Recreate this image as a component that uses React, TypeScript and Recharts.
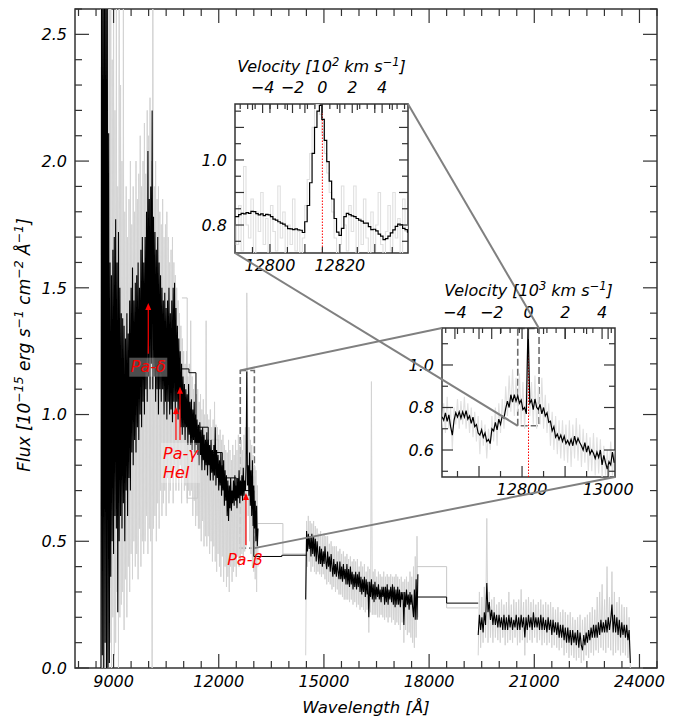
import React from 'react';
import { ComposedChart, Line, XAxis, YAxis, ReferenceArea, ReferenceLine } from 'recharts';

const FONT = '"DejaVu Sans", sans-serif';
const FRAME = '#333333';
const GREY = '#d3d3d3';
const LIGHT = '#e0e0e0';
const CONNECT = '#808080';
const RED = '#ff0000';

// ---------- domains ----------
const MAIN_X = [7900, 24500];
const MAIN_Y = [0, 2.6];
const Z1_X = [12790, 12839.5];
const Z1_Y = [0.714, 1.172];
const Z2_X = [12614, 13016];
const Z2_Y = [0.473, 1.174];
const LAMBDA0 = 12815;
const C_KMS = 299792.458;

// ---------- ticks / labels ----------
const MAIN_XTICKS = Array.from({ length: 34 }, (_, i) => 8000 + 500 * i);
const MAIN_XLABELS = [9000, 12000, 15000, 18000, 21000, 24000];
const MAIN_YTICKS = Array.from({ length: 27 }, (_, i) => i / 10);
const MAIN_YLABELS = [0, 0.5, 1.0, 1.5, 2.0, 2.5];
const Z1_XTICKS = [12795, 12800, 12805, 12810, 12815, 12820, 12825, 12830, 12835];
const Z1_XLABELS = [12800, 12820];
const Z1_YTICKS = [0.75, 0.8, 0.85, 0.9, 0.95, 1.0, 1.05, 1.1, 1.15];
const Z1_YLABELS = [0.8, 1.0];
const Z2_XTICKS = [12650, 12700, 12750, 12800, 12850, 12900, 12950, 13000];
const Z2_XLABELS = [12800, 13000];
const Z2_YTICKS = [0.5, 0.6, 0.7, 0.8, 0.9, 1.0, 1.1];
const Z2_YLABELS = [0.6, 0.8, 1.0];
const V_TICKS_1 = [-5.5, -5, -4.5, -4, -3.5, -3, -2.5, -2, -1.5, -1, -0.5, 0, 0.5, 1, 1.5, 2, 2.5, 3, 3.5, 4, 4.5, 5, 5.5];
const V_TICKS_2 = [-4.5, -4, -3.5, -3, -2.5, -2, -1.5, -1, -0.5, 0, 0.5, 1, 1.5, 2, 2.5, 3, 3.5, 4, 4.5];
const V_LABELS = [-4, -2, 0, 2, 4];

// ---------- main spectrum: segment A (start 8640, step 20) ----------
const A_START = 8640;
const A_STEP = 20;
const BLACK_A = [
  0.0, 2.9, 0.05, 2.9, 0.0, 2.9, 0.1, 2.9, 0.0, 2.9,
  0.0, 2.11, 0.02, 1.6, 0.36, 1.55, 0.5, 1.65, 0.45, 1.7,
  0.6, 1.77, 0.55, 1.6, 0.22, 1.72, 0.5, 1.5, 0.6, 1.4,
  0.55, 1.38, 0.65, 1.35, 0.5, 1.3, 0.7, 1.4, 0.6, 1.32,
  0.75, 1.45, 0.7, 1.5, 0.85, 1.58, 0.8, 1.45, 0.9, 1.52,
  0.85, 1.55, 0.95, 1.6, 0.9, 1.5, 1.0, 1.65, 0.95, 1.7,
  1.05, 1.6, 1.0, 1.7, 1.1, 1.8, 1.05, 2.04, 1.15, 1.85,
  1.1, 1.9, 1.2, 2.2, 1.1, 1.78, 1.15, 1.72, 1.05, 1.65,
  1.1, 1.7, 1.0, 1.6, 1.1, 1.55, 1.05, 1.5, 1.1, 1.45,
  1.0, 1.48, 1.05, 1.42, 0.98, 1.45, 1.05, 1.5, 1.0, 1.4,
  1.02, 1.45, 0.97, 1.5, 1.05, 1.52, 1.0, 1.42, 1.05, 1.35,
  0.98, 1.3, 1.02, 1.25, 0.95, 1.2, 0.92, 1.15, 0.95, 1.12,
  0.9, 1.1, 0.95, 1.08, 0.88, 1.12, 0.92, 1.05, 0.88, 1.06,
  0.86, 1.02, 0.9, 1.05, 0.85, 1.0, 0.88, 0.98, 0.84, 0.96,
  0.8, 0.97, 0.84, 0.94, 0.78, 0.95, 0.82, 0.92, 0.78, 0.9,
  0.8, 0.93, 0.76, 0.9, 0.8, 0.88, 0.74, 0.9, 0.77, 0.86,
  0.74, 0.88, 0.76, 0.95, 0.72, 0.86, 0.75, 0.84, 0.7, 0.82,
  0.72, 0.85, 0.68, 0.8, 0.7, 0.82, 0.64, 0.78, 0.66, 0.76,
  0.6, 0.74, 0.58, 0.72, 0.63, 0.75, 0.62, 0.7, 0.65, 0.74,
  0.64, 0.76, 0.66, 0.72, 0.63, 0.75, 0.67, 0.78, 0.65, 0.74,
  0.68, 0.76, 0.66, 0.79, 0.68, 0.74, 0.7, 0.8, 1.17, 0.72,
  0.8, 0.68, 0.85, 0.64, 0.78, 0.6, 0.82, 0.56, 0.72, 0.55,
  0.66, 0.5, 0.64, 0.48, 0.55,
];
const GREY_A = [
  2.9, 0.0, 2.9, 0.0, 2.9, 0.0, 2.9, 0.0, 2.9, 0.0,
  2.9, 0.0, 2.9, 0.1, 2.7, 0.0, 2.4, 0.2, 2.9, 0.05,
  2.2, 0.1, 2.9, 0.3, 1.9, 0.0, 2.9, 0.2, 2.3, 0.25,
  2.0, 0.3, 2.6, 0.15, 1.8, 0.35, 1.9, 0.2, 1.7, 0.4,
  1.85, 0.3, 2.0, 0.45, 1.75, 0.35, 1.9, 0.5, 1.8, 0.4,
  2.0, 0.45, 1.85, 0.35, 1.95, 0.55, 2.1, 0.4, 1.9, 0.5,
  2.0, 0.45, 2.15, 0.5, 1.95, 0.6, 2.2, 0.45, 2.1, 0.55,
  2.25, 0.5, 2.0, 0.0, 2.9, 0.55, 1.9, 0.6, 2.0, 0.5,
  1.85, 0.65, 1.9, 0.55, 1.8, 0.7, 1.75, 0.6, 1.85, 0.65,
  1.7, 0.7, 1.75, 0.6, 1.8, 0.75, 1.7, 0.65, 1.6, 0.7,
  1.65, 0.75, 1.7, 0.65, 1.6, 0.8, 1.55, 0.7, 1.5, 0.75,
  1.45, 0.7, 1.4, 0.8, 1.35, 0.65, 1.3, 0.75, 1.25, 0.7,
  1.2, 0.72, 1.25, 0.65, 1.15, 0.7, 1.2, 0.68, 1.37, 0.7,
  1.15, 0.6, 1.1, 0.66, 1.12, 0.56, 1.08, 0.6, 1.1, 0.55,
  1.05, 0.55, 1.08, 0.5, 1.02, 0.58, 1.06, 0.48, 1.0, 0.52,
  1.37, 0.48, 1.0, 0.52, 0.98, 0.45, 1.02, 0.5, 0.95, 0.42,
  0.98, 0.48, 1.05, 0.42, 0.96, 0.38, 0.95, 0.45, 0.92, 0.4,
  0.94, 0.36, 0.9, 0.44, 0.92, 0.34, 0.88, 0.4, 0.86, 0.32,
  0.85, 0.36, 0.9, 0.3, 0.86, 0.4, 0.82, 0.34, 0.88, 0.38,
  0.84, 0.4, 0.9, 0.36, 0.86, 0.44, 0.92, 0.4, 0.88, 0.42,
  0.9, 0.45, 0.86, 0.42, 0.92, 0.46, 0.95, 0.48, 1.48, 1.15,
  0.6, 0.95, 0.5, 0.9, 0.45, 0.88, 0.4, 0.84, 0.38, 0.8,
  0.35, 0.78, 0.3, 0.72, 0.4,
];

// ---------- segment B (start 14480, step 25) ----------
const B_START = 14480;
const B_STEP = 25;
const BLACK_B = [
  0.27, 0.54, 0.46, 0.53, 0.47, 0.52, 0.44, 0.53,
  0.45, 0.52, 0.44, 0.51, 0.42, 0.5, 0.45, 0.41,
  0.48, 0.41, 0.47, 0.4, 0.46, 0.41, 0.48, 0.42,
  0.39, 0.46, 0.4, 0.44, 0.38, 0.45, 0.4, 0.36,
  0.43, 0.37, 0.41, 0.36, 0.42, 0.38, 0.35, 0.42,
  0.35, 0.4, 0.34, 0.41, 0.35, 0.39, 0.33, 0.41,
  0.33, 0.39, 0.32, 0.4, 0.33, 0.38, 0.31, 0.37,
  0.32, 0.38, 0.31, 0.37, 0.32, 0.38, 0.3, 0.36,
  0.29, 0.35, 0.3, 0.36, 0.28, 0.35, 0.29, 0.34,
  0.2, 0.34, 0.28, 0.35, 0.27, 0.33, 0.26, 0.34,
  0.27, 0.32, 0.28, 0.33, 0.27, 0.31, 0.26, 0.32,
  0.28, 0.32, 0.25, 0.32, 0.26, 0.33, 0.25, 0.31,
  0.27, 0.32, 0.26, 0.33, 0.25, 0.32, 0.24, 0.31,
  0.25, 0.32, 0.25, 0.31, 0.24, 0.3, 0.27, 0.3,
  0.17, 0.3, 0.24, 0.31, 0.25, 0.29, 0.23, 0.3,
  0.25, 0.29, 0.24, 0.2, 0.31, 0.19, 0.35, 0.19,
  0.37,
];
const GREY_B = [
  0.05, 0.58, 0.4, 0.6, 0.42, 0.58, 0.38, 0.57,
  0.4, 0.58, 0.38, 0.56, 0.37, 0.55, 0.38, 0.53,
  0.37, 0.54, 0.36, 0.52, 0.37, 0.53, 0.35, 0.52,
  0.33, 0.52, 0.34, 0.49, 0.33, 0.5, 0.31, 0.48,
  0.32, 0.48, 0.3, 0.48, 0.31, 0.46, 0.29, 0.47,
  0.29, 0.45, 0.28, 0.46, 0.27, 0.44, 0.27, 0.45,
  0.27, 0.43, 0.26, 0.44, 0.27, 0.42, 0.25, 0.43,
  0.26, 0.42, 0.24, 0.43, 0.25, 0.4, 0.23, 0.42,
  0.24, 0.4, 0.23, 0.41, 0.22, 0.38, 0.23, 0.4,
  0.14, 0.39, 0.22, 1.13, 0.21, 0.38, 0.21, 0.39,
  0.21, 0.36, 0.2, 0.38, 0.2, 0.37, 0.21, 0.36,
  0.2, 0.38, 0.19, 0.36, 0.2, 0.37, 0.18, 0.36,
  0.2, 0.37, 0.18, 0.36, 0.19, 0.36, 0.17, 0.37,
  0.18, 0.36, 0.17, 0.35, 0.15, 0.36, 0.18, 0.34,
  0.1, 0.35, 0.15, 0.36, 0.13, 0.34, 0.14, 0.38,
  0.12, 0.36, 0.1, 0.4, 0.08, 0.44, 0.12, 0.52,
  0.2,
];

// ---------- segment C (start 19400, step 35) ----------
const C_START = 19400;
const C_STEP = 35;
const BLACK_C = [
  0.13, 0.21, 0.15, 0.2, 0.14, 0.22, 0.17, 0.335,
  0.22, 0.26, 0.19, 0.23, 0.17, 0.22, 0.17, 0.21,
  0.16, 0.21, 0.16, 0.2, 0.15, 0.21, 0.15, 0.2,
  0.15, 0.21, 0.16, 0.2, 0.15, 0.19, 0.16, 0.21,
  0.15, 0.2, 0.15, 0.21, 0.16, 0.2, 0.12, 0.2,
  0.15, 0.21, 0.16, 0.2, 0.15, 0.22, 0.16, 0.2,
  0.16, 0.2, 0.15, 0.21, 0.15, 0.2, 0.15, 0.19,
  0.14, 0.2, 0.15, 0.19, 0.13, 0.19, 0.14, 0.18,
  0.13, 0.18, 0.12, 0.17, 0.12, 0.17, 0.11, 0.16,
  0.1, 0.16, 0.1, 0.15, 0.09, 0.15, 0.1, 0.14,
  0.09, 0.15, 0.08, 0.14, 0.09, 0.07, 0.13, 0.09,
  0.14, 0.1, 0.15, 0.11, 0.16, 0.12, 0.17, 0.12,
  0.17, 0.12, 0.18, 0.13, 0.19, 0.14, 0.18, 0.14,
  0.19, 0.14, 0.2, 0.15, 0.19, 0.25, 0.14, 0.21,
  0.14, 0.2, 0.13, 0.19, 0.12, 0.18, 0.13, 0.17,
  0.12, 0.17, 0.11, 0.15, 0.02,
];
const GREY_C = [
  0.05, 0.3, 0.08, 0.28, 0.1, 0.32, 0.12, 0.59,
  0.1, 0.3, 0.12, 0.27, 0.1, 0.28, 0.12, 0.25,
  0.11, 0.26, 0.1, 0.27, 0.12, 0.25, 0.09, 0.26,
  0.1, 0.3, 0.11, 0.25, 0.1, 0.27, 0.12, 0.26,
  0.09, 0.27, 0.1, 0.31, 0.11, 0.26, 0.05, 0.27,
  0.1, 0.28, 0.11, 0.26, 0.1, 0.27, 0.12, 0.25,
  0.1, 0.26, 0.11, 0.27, 0.09, 0.25, 0.1, 0.26,
  0.09, 0.25, 0.1, 0.26, 0.08, 0.24, 0.09, 0.23,
  0.08, 0.24, 0.07, 0.22, 0.08, 0.23, 0.05, 0.22,
  0.06, 0.21, 0.04, 0.22, 0.05, 0.2, 0.04, 0.19,
  0.03, 0.2, 0.04, 0.21, 0.02, 0.19, 0.03, 0.2,
  0.05, 0.21, 0.04, 0.22, 0.06, 0.24, 0.05, 0.23,
  0.07, 0.28, 0.06, 0.3, 0.08, 0.33, 0.07, 0.27,
  0.06, 0.4, 0.08, 0.28, 0.07, 0.38, 0.05, 0.3,
  0.06, 0.26, 0.07, 0.28, 0.05, 0.25, 0.06, 0.24,
  0.05, 0.24, 0.04, 0.2, 0.0,
];

// ---------- binned step curves (wavelength, flux) ----------
const BLACK_STEP_1 = [[10950, 1.18], [11150, 1.165], [11350, 0.95], [11700, 0.85], [12100, 0.75], [12500, 0.7], [13000, 0.44], [13800, 0.445], [14500, 0.445]];
const GREY_STEP_1 = [[10950, 1.46], [11100, 0.67], [11400, 0.9], [12000, 0.75], [12500, 0.68], [13000, 0.57], [13830, 0.45], [14500, 0.45]];
const BLACK_STEP_2 = [[17650, 0.28], [18500, 0.256], [19400, 0.256]];
const GREY_STEP_2 = [[17650, 0.4], [18500, 0.237], [19400, 0.237]];

// ---------- inset 1 (start 12790, step 0.7) ----------
const Z1_START = 12790;
const Z1_STEP = 0.7;
const Z1_BLACK = [
  0.826, 0.826, 0.832, 0.836, 0.834, 0.838, 0.836, 0.842, 0.841, 0.835,
  0.831, 0.834, 0.829, 0.833, 0.831, 0.826, 0.818, 0.815, 0.81, 0.806,
  0.803, 0.797, 0.789, 0.788, 0.786, 0.788, 0.785, 0.784, 0.777, 0.81,
  0.86, 0.93, 1.02, 1.1, 1.15, 1.168, 1.125, 1.06, 0.995, 0.935,
  0.88, 0.82, 0.778, 0.768, 0.79, 0.826, 0.836, 0.832, 0.828, 0.826,
  0.82, 0.815, 0.812, 0.806, 0.806, 0.795, 0.786, 0.787, 0.782, 0.772,
  0.766, 0.755, 0.758, 0.766, 0.776, 0.785, 0.796, 0.803, 0.801, 0.79,
  0.786, 0.778,
];
const Z1_GREY = [
  0.8, 0.74, 0.86, 0.72, 0.98, 0.8, 0.76, 0.88, 0.7, 0.84,
  0.78, 0.9, 0.74, 0.82, 0.7, 0.86, 0.78, 0.72, 0.92, 0.76,
  0.84, 0.7, 0.8, 0.74, 0.88, 0.72, 0.78, 0.7, 0.76, 0.86,
  0.94, 1.02, 1.1, 1.17, 1.17, 1.14, 1.08, 1.02, 0.96, 0.9,
  0.84, 0.76, 0.7, 0.74, 0.92, 0.8, 0.72, 0.86, 0.78, 0.92,
  0.7, 0.82, 0.74, 0.88, 0.76, 0.7, 0.84, 0.72, 0.8, 0.9,
  0.74, 0.68, 0.78, 0.86, 0.72, 0.9, 0.76, 0.82, 0.7, 0.88,
  0.78, 0.8,
];

// ---------- inset 2 (start 12614, step 4) ----------
const Z2_START = 12614;
const Z2_STEP = 4;
const Z2_BLACK = [
  0.757, 0.74, 0.775, 0.735, 0.765, 0.71, 0.67, 0.74, 0.775, 0.755,
  0.78, 0.75, 0.78, 0.755, 0.785, 0.745, 0.76, 0.725, 0.755, 0.71,
  0.72, 0.68, 0.67, 0.695, 0.66, 0.68, 0.64, 0.65, 0.63, 0.7,
  0.69, 0.73, 0.695, 0.745, 0.72, 0.76, 0.75, 0.795, 0.83, 0.8,
  0.86, 0.825, 0.86, 0.83, 0.855, 0.82, 0.835, 0.79, 0.8, 0.77,
  1.2, 0.82, 0.835, 0.79, 0.84, 0.8, 0.79, 0.815, 0.77, 0.8,
  0.76, 0.775, 0.73, 0.735, 0.69, 0.71, 0.66, 0.675, 0.65, 0.67,
  0.64, 0.665, 0.63, 0.645, 0.625, 0.65, 0.62, 0.665, 0.63, 0.655,
  0.635, 0.62, 0.6, 0.635, 0.59, 0.62, 0.58, 0.6, 0.585, 0.56,
  0.59, 0.565, 0.6, 0.53, 0.575, 0.54, 0.51, 0.545, 0.53, 0.59,
  0.54,
];
const Z2_GREY = [
  0.7, 0.82, 0.68, 0.85, 0.7, 0.8, 0.6, 0.8, 0.72, 0.84,
  0.7, 0.83, 0.72, 0.85, 0.7, 0.82, 0.68, 0.8, 0.66, 0.78,
  0.64, 0.76, 0.58, 0.74, 0.62, 0.72, 0.56, 0.7, 0.6, 0.76,
  0.64, 0.8, 0.62, 0.82, 0.68, 0.84, 0.7, 0.9, 0.76, 0.95,
  0.78, 0.98, 0.76, 0.94, 0.78, 0.96, 0.72, 0.92, 0.7, 0.9,
  1.17, 0.76, 0.92, 0.72, 0.95, 0.7, 0.9, 0.72, 0.94, 0.7,
  0.86, 0.68, 0.82, 0.62, 0.78, 0.6, 0.76, 0.58, 0.74, 0.56,
  0.74, 0.55, 0.72, 0.54, 0.74, 0.52, 0.72, 0.56, 0.75, 0.55,
  0.72, 0.52, 0.7, 0.54, 0.68, 0.5, 0.66, 0.5, 0.68, 0.48,
  0.66, 0.49, 0.65, 0.47, 0.62, 0.48, 0.6, 0.47, 0.64, 0.48,
  0.6,
];

// ---------- line annotations: [wavelength, tail flux, head flux] ----------
const ARROW_PA_DELTA = [9990, 1.24, 1.44];
const ARROW_HEI = [10780, 0.9, 1.03];
const ARROW_PA_GAMMA = [10895, 0.9, 1.11];
const ARROW_PA_BETA = [12775, 0.485, 0.69];

// ---------- layout ----------
const W = 681;
const H = 720;
const MAIN_BOX = { left: 75, top: 9, right: 657, bottom: 668 };
const Z1_BOX = { left: 235, top: 104, right: 408, bottom: 253 };
const Z2_BOX = { left: 442, top: 328, right: 615, bottom: 477 };
const IN_YW = 40;
const IN_TOP = 56;
const IN_BOT = 30;
const IN_RM = 30;

const rows = (start: number, step: number, vals: number[]) => vals.map((f, i) => ({ w: start + step * i, f }));
const pairRows = (p: number[][]) => p.map(([w, f]) => ({ w, f }));
const lin = (v: number, d: number[], p0: number, p1: number) => p0 + ((v - d[0]) / (d[1] - d[0])) * (p1 - p0);
const near = (v: number, arr: number[]) => arr.some((a) => Math.abs(a - v) < 1e-6);
const fmtV = (v: number) => (v < 0 ? '\u2212' + Math.abs(v) : String(v));

const TXT = { fontFamily: FONT, fontStyle: 'italic' as const, fontSize: 16, fill: '#000' };

type Box = { left: number; top: number; right: number; bottom: number };

function makeXTick(box: Box, isMajor: (v: number) => boolean, label: (v: number) => string | null, majorLen: number, minorLen: number, gap: number, mirror: boolean) {
  return (props: any) => {
    const { x, payload } = props;
    const v = payload.value;
    const len = isMajor(v) ? majorLen : minorLen;
    const lab = label(v);
    return (
      <g>
        <line x1={x} x2={x} y1={box.bottom} y2={box.bottom - len} stroke={FRAME} strokeWidth={1.2} />
        {mirror && <line x1={x} x2={x} y1={box.top} y2={box.top + len} stroke={FRAME} strokeWidth={1.2} />}
        {lab !== null && (
          <text x={x} y={box.bottom + gap} textAnchor="middle" {...TXT}>{lab}</text>
        )}
      </g>
    );
  };
}

function makeTopTick(box: Box, isMajor: (v: number) => boolean, label: (v: number) => string | null, majorLen: number, minorLen: number, gap: number) {
  return (props: any) => {
    const { x, payload } = props;
    const v = payload.value;
    const len = isMajor(v) ? majorLen : minorLen;
    const lab = label(v);
    return (
      <g>
        <line x1={x} x2={x} y1={box.top} y2={box.top + len} stroke={FRAME} strokeWidth={1.2} />
        {lab !== null && (
          <text x={x} y={box.top - gap} textAnchor="middle" {...TXT}>{lab}</text>
        )}
      </g>
    );
  };
}

function makeYTick(box: Box, isMajor: (v: number) => boolean, label: (v: number) => string | null, majorLen: number, minorLen: number, gap: number) {
  return (props: any) => {
    const { y, payload } = props;
    const v = payload.value;
    const len = isMajor(v) ? majorLen : minorLen;
    const lab = label(v);
    return (
      <g>
        <line x1={box.left} x2={box.left + len} y1={y} y2={y} stroke={FRAME} strokeWidth={1.2} />
        <line x1={box.right} x2={box.right - len} y1={y} y2={y} stroke={FRAME} strokeWidth={1.2} />
        {lab !== null && (
          <text x={box.left - gap} y={y} dy="0.36em" textAnchor="end" {...TXT}>{lab}</text>
        )}
      </g>
    );
  };
}

function ArrowShape(props: any) {
  const { x1, y1, x2, y2, lines, anchor, dx, dy, lineGap, box } = props;
  const head = 7;
  return (
    <g>
      {box && (
        <rect x={x1 + box[0]} y={y1 + box[1]} width={box[2]} height={box[3]} fill="#ffffff" fillOpacity={0.3} stroke="none" />
      )}
      <line x1={x1} y1={y1} x2={x2} y2={y2 + head - 1} stroke={RED} strokeWidth={1.2} />
      <polygon points={`${x2},${y2} ${x2 - 3},${y2 + head} ${x2 + 3},${y2 + head}`} fill={RED} />
      {lines &&
        lines.map((t: string, i: number) => (
          <text key={i} x={x1 + (dx || 0)} y={y1 + dy + i * (lineGap || 0)} textAnchor={anchor} {...TXT} fill={RED}>
            {t}
          </text>
        ))}
    </g>
  );
}

function MainChart() {
  const xTick = makeXTick(MAIN_BOX, (v) => v % 3000 === 0, (v) => (near(v, MAIN_XLABELS) ? String(v) : null), 14, 7, 19, true);
  const yTick = makeYTick(
    MAIN_BOX,
    (v) => Math.round(v * 10) % 5 === 0,
    (v) => (near(v, MAIN_YLABELS) ? v.toFixed(1) : null),
    14,
    7,
    8
  );
  const common = { dot: false, activeDot: false, isAnimationActive: false, dataKey: 'f', legendType: 'none' as const };
  const greyLines = [
    rows(A_START, A_STEP, GREY_A),
    rows(B_START, B_STEP, GREY_B),
    rows(C_START, C_STEP, GREY_C),
  ];
  const blackLines = [
    rows(A_START, A_STEP, BLACK_A),
    rows(B_START, B_STEP, BLACK_B),
    rows(C_START, C_STEP, BLACK_C),
  ];
  return (
    <ComposedChart width={W} height={H} margin={{ top: MAIN_BOX.top, right: W - MAIN_BOX.right, bottom: 0, left: 0 }}>
      <XAxis dataKey="w" type="number" domain={MAIN_X} allowDataOverflow ticks={MAIN_XTICKS} interval={0} height={H - MAIN_BOX.bottom} axisLine={false} tickLine={false} tick={xTick} />
      <YAxis type="number" domain={MAIN_Y} allowDataOverflow ticks={MAIN_YTICKS} interval={0} width={MAIN_BOX.left} axisLine={false} tickLine={false} tick={yTick} />
      {greyLines.map((d, i) => (
        <Line key={'g' + i} data={d} {...common} stroke={GREY} strokeWidth={1} />
      ))}
      <Line data={pairRows(GREY_STEP_1)} {...common} type="stepAfter" stroke="#c8c8c8" strokeWidth={1} />
      <Line data={pairRows(GREY_STEP_2)} {...common} type="stepAfter" stroke="#c8c8c8" strokeWidth={1} />
      {blackLines.map((d, i) => (
        <Line key={'b' + i} data={d} {...common} stroke="#000" strokeWidth={1.1} />
      ))}
      <Line data={pairRows(BLACK_STEP_1)} {...common} type="stepAfter" stroke="#000" strokeWidth={1} />
      <Line data={pairRows(BLACK_STEP_2)} {...common} type="stepAfter" stroke="#000" strokeWidth={1} />
      <ReferenceArea x1={Z2_X[0]} x2={Z2_X[1]} y1={Z2_Y[0]} y2={Z2_Y[1]} fill="none" stroke="#6e6e6e" strokeWidth={1.6} strokeDasharray="7 3" />
      <ReferenceLine
        segment={[{ x: ARROW_PA_DELTA[0], y: ARROW_PA_DELTA[1] }, { x: ARROW_PA_DELTA[0], y: ARROW_PA_DELTA[2] }]}
        shape={<ArrowShape lines={['Pa-\u03b4']} anchor="middle" dx={0} dy={18} box={[-19, 4, 38, 19]} />}
      />
      <ReferenceLine
        segment={[{ x: ARROW_HEI[0], y: ARROW_HEI[1] }, { x: ARROW_HEI[0], y: ARROW_HEI[2] }]}
        shape={<ArrowShape />}
      />
      <ReferenceLine
        segment={[{ x: ARROW_PA_GAMMA[0], y: ARROW_PA_GAMMA[1] }, { x: ARROW_PA_GAMMA[0], y: ARROW_PA_GAMMA[2] }]}
        shape={<ArrowShape lines={['Pa-\u03b3', 'HeI']} anchor="start" dx={-17} dy={19} lineGap={19} box={[-19, 3, 39, 40]} />}
      />
      <ReferenceLine
        segment={[{ x: ARROW_PA_BETA[0], y: ARROW_PA_BETA[1] }, { x: ARROW_PA_BETA[0], y: ARROW_PA_BETA[2] }]}
        shape={<ArrowShape lines={['Pa-\u03b2']} anchor="middle" dx={-1} dy={20} />}
      />
      <ReferenceArea x1={MAIN_X[0]} x2={MAIN_X[1]} y1={MAIN_Y[0]} y2={MAIN_Y[1]} fill="none" stroke={FRAME} strokeWidth={1.5} />
    </ComposedChart>
  );
}

type InsetProps = {
  page: Box;
  xDom: number[];
  yDom: number[];
  vUnit: number;
  xTicks: number[];
  xLabels: number[];
  xMajor: number;
  yTicks: number[];
  yLabels: number[];
  yMajor: number;
  vTicks: number[];
  black: { w: number; f: number }[];
  grey: { w: number; f: number }[];
  blackType: any;
  greyType: any;
  dashed?: { x: number[]; y: number[] };
  majorLen: number;
  minorLen: number;
  topGap: number;
};

function Inset(p: InsetProps) {
  const pw = p.page.right - p.page.left;
  const ph = p.page.bottom - p.page.top;
  const box = { left: IN_YW, top: IN_TOP, right: IN_YW + pw, bottom: IN_TOP + ph };
  const vDom = p.xDom.map((l) => (((l - LAMBDA0) / LAMBDA0) * C_KMS) / p.vUnit);
  const xTick = makeXTick(
    box,
    (v) => Math.abs(v / p.xMajor - Math.round(v / p.xMajor)) < 1e-6,
    (v) => (near(v, p.xLabels) ? String(v) : null),
    p.majorLen,
    p.minorLen,
    18,
    true
  );
  const vTick = makeTopTick(box, (v) => near(v, V_LABELS), (v) => (near(v, V_LABELS) ? fmtV(v) : null), p.majorLen, p.minorLen - 1, p.topGap);
  const yTick = makeYTick(
    box,
    (v) => Math.abs(v / p.yMajor - Math.round(v / p.yMajor)) < 1e-6,
    (v) => (near(v, p.yLabels) ? v.toFixed(1) : null),
    p.majorLen,
    p.minorLen,
    8
  );
  const common = { dot: false, activeDot: false, isAnimationActive: false, dataKey: 'f', legendType: 'none' as const };
  return (
    <ComposedChart width={IN_YW + pw + IN_RM} height={IN_TOP + ph + IN_BOT} margin={{ top: 0, right: IN_RM, bottom: 0, left: 0 }}>
      <XAxis xAxisId="w" dataKey="w" type="number" domain={p.xDom} allowDataOverflow ticks={p.xTicks} interval={0} height={IN_BOT} axisLine={false} tickLine={false} tick={xTick} />
      <XAxis xAxisId="v" dataKey="v" orientation="top" type="number" domain={vDom} allowDataOverflow ticks={p.vTicks} interval={0} height={IN_TOP} axisLine={false} tickLine={false} tick={vTick} />
      <YAxis type="number" domain={p.yDom} allowDataOverflow ticks={p.yTicks} interval={0} width={IN_YW} axisLine={false} tickLine={false} tick={yTick} />
      <Line xAxisId="w" data={p.grey} {...common} type={p.greyType} stroke={LIGHT} strokeWidth={1.1} />
      <Line xAxisId="v" data={[{ v: 0, f: p.yDom[0] }, { v: 0, f: p.yDom[1] }]} {...common} stroke={RED} strokeWidth={1} strokeDasharray="1.5 1.5" />
      <Line xAxisId="w" data={p.black} {...common} type={p.blackType} stroke="#000" strokeWidth={1.2} />
      {p.dashed && (
        <ReferenceArea xAxisId="w" x1={p.dashed.x[0]} x2={p.dashed.x[1]} y1={p.dashed.y[0]} y2={p.dashed.y[1]} fill="none" stroke="#6e6e6e" strokeWidth={1.6} strokeDasharray="7 3" />
      )}
      <ReferenceArea xAxisId="w" x1={p.xDom[0]} x2={p.xDom[1]} y1={p.yDom[0]} y2={p.yDom[1]} fill="none" stroke={FRAME} strokeWidth={1.5} />
    </ComposedChart>
  );
}

export default function App() {
  // connector geometry, from the axes' linear mappings
  const mx = (v: number) => lin(v, MAIN_X, MAIN_BOX.left, MAIN_BOX.right);
  const my = (v: number) => lin(v, MAIN_Y, MAIN_BOX.bottom, MAIN_BOX.top);
  const z2x = (v: number) => lin(v, Z2_X, Z2_BOX.left, Z2_BOX.right);
  const z2y = (v: number) => lin(v, Z2_Y, Z2_BOX.bottom, Z2_BOX.top);
  const connectors = [
    [mx(Z2_X[0]), my(Z2_Y[1]), Z2_BOX.left, Z2_BOX.top],
    [mx(Z2_X[1]), my(Z2_Y[0]), Z2_BOX.right, Z2_BOX.bottom],
    [z2x(Z1_X[0]), z2y(Z1_Y[0]), Z1_BOX.left, Z1_BOX.bottom],
    [z2x(Z1_X[1]), z2y(Z1_Y[1]), Z1_BOX.right, Z1_BOX.top],
  ];
  return (
    <div style={{ position: 'absolute', left: 0, top: 0, width: W, height: H, background: '#fff', overflow: 'hidden' }}>
      <div style={{ position: 'absolute', left: 0, top: 0 }}>
        <MainChart />
      </div>
      <div style={{ position: 'absolute', left: Z2_BOX.left - IN_YW, top: Z2_BOX.top - IN_TOP }}>
        <Inset
          page={Z2_BOX}
          xDom={Z2_X}
          yDom={Z2_Y}
          vUnit={1000}
          xTicks={Z2_XTICKS}
          xLabels={Z2_XLABELS}
          xMajor={100}
          yTicks={Z2_YTICKS}
          yLabels={Z2_YLABELS}
          yMajor={0.2}
          vTicks={V_TICKS_2}
          black={rows(Z2_START, Z2_STEP, Z2_BLACK)}
          grey={rows(Z2_START, Z2_STEP, Z2_GREY)}
          blackType="linear"
          greyType="linear"
          dashed={{ x: Z1_X, y: Z1_Y }}
          majorLen={11}
          minorLen={6}
          topGap={10}
        />
      </div>
      <div style={{ position: 'absolute', left: Z1_BOX.left - IN_YW, top: Z1_BOX.top - IN_TOP }}>
        <Inset
          page={Z1_BOX}
          xDom={Z1_X}
          yDom={Z1_Y}
          vUnit={100}
          xTicks={Z1_XTICKS}
          xLabels={Z1_XLABELS}
          xMajor={10}
          yTicks={Z1_YTICKS}
          yLabels={Z1_YLABELS}
          yMajor={0.1}
          vTicks={V_TICKS_1}
          black={rows(Z1_START, Z1_STEP, Z1_BLACK)}
          grey={rows(Z1_START, Z1_STEP, Z1_GREY)}
          blackType="step"
          greyType="step"
          majorLen={9}
          minorLen={6}
          topGap={11}
        />
      </div>
      <svg width={W} height={H} style={{ position: 'absolute', left: 0, top: 0, pointerEvents: 'none' }}>
        {connectors.map((c, i) => (
          <line key={i} x1={c[0]} y1={c[1]} x2={c[2]} y2={c[3]} stroke={CONNECT} strokeWidth={2} />
        ))}
        <text x={(MAIN_BOX.left + MAIN_BOX.right) / 2} y={713} textAnchor="middle" {...TXT} fontSize={16.5}>
          Wavelength [Å]
        </text>
        <text transform="translate(30,345) rotate(-90)" textAnchor="middle" {...TXT} fontSize={17}>
          <tspan>Flux [10</tspan>
          <tspan dy={-7} fontSize={12.5}>{'\u221215'}</tspan>
          <tspan dy={7}>{' erg s'}</tspan>
          <tspan dy={-7} fontSize={12.5}>{'\u22121'}</tspan>
          <tspan dy={7}>{' cm'}</tspan>
          <tspan dy={-7} fontSize={12.5}>{'\u22122'}</tspan>
          <tspan dy={7}>{' Å'}</tspan>
          <tspan dy={-7} fontSize={12.5}>{'\u22121'}</tspan>
          <tspan dy={7}>{']'}</tspan>
        </text>
        <text x={(Z1_BOX.left + Z1_BOX.right) / 2} y={72} textAnchor="middle" {...TXT}>
          <tspan>Velocity [10</tspan>
          <tspan dy={-6.5} fontSize={11.5}>2</tspan>
          <tspan dy={6.5}>{' km s'}</tspan>
          <tspan dy={-6.5} fontSize={11.5}>{'\u22121'}</tspan>
          <tspan dy={6.5}>{']'}</tspan>
        </text>
        <text x={(Z2_BOX.left + Z2_BOX.right) / 2} y={296} textAnchor="middle" {...TXT}>
          <tspan>Velocity [10</tspan>
          <tspan dy={-6.5} fontSize={11.5}>3</tspan>
          <tspan dy={6.5}>{' km s'}</tspan>
          <tspan dy={-6.5} fontSize={11.5}>{'\u22121'}</tspan>
          <tspan dy={6.5}>{']'}</tspan>
        </text>
      </svg>
    </div>
  );
}
